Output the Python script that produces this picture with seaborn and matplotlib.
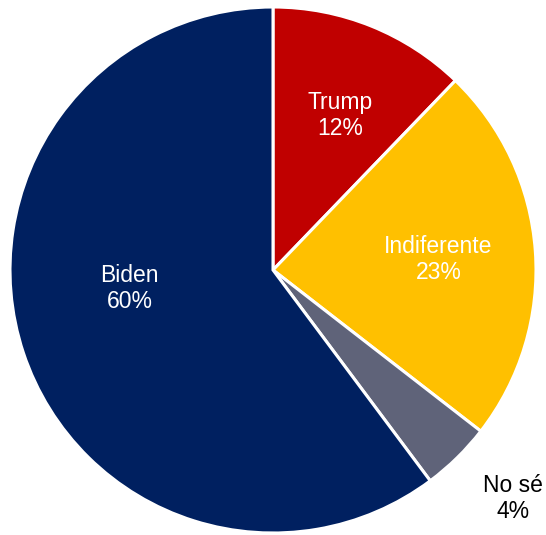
import matplotlib.pyplot as plt
import seaborn as sns
import numpy as np

sns.set_theme(style="white")
plt.rcParams['font.family'] = ['Liberation Sans', 'DejaVu Sans']

# encuesta: preferencia (orden horario desde arriba)
labels = ["Trump", "Indiferente", "No sé", "Biden"]
values = [12.2, 23.3, 4.3, 60.2]
pct_text = ["12%", "23%", "4%", "60%"]
colors = ["#C00000", "#FFC000", "#5F6379", "#002060"]
text_colors = ["white", "white", "black", "white"]
# posición de la etiqueta: (radio, desplazamiento angular en grados)
label_pos = [(0.64, -1.5), (0.63, -0.5), (1.26, 2), (0.55, -11)]

fig = plt.figure(figsize=(5.46, 5.35), dpi=100)
ax = fig.add_axes([10 / 546, 2 / 535, 526 / 546, 526 / 535])

wedges, _ = ax.pie(values, colors=colors, startangle=90, counterclock=False,
                   radius=1, wedgeprops=dict(edgecolor="white", linewidth=2.2))

for w, lab, pct, tc, (r, off) in zip(wedges, labels, pct_text, text_colors, label_pos):
    ang = np.deg2rad((w.theta1 + w.theta2) / 2 + off)
    ax.text(r * np.cos(ang), r * np.sin(ang), f"{lab}\n{pct}", color=tc,
            ha="center", va="center", fontsize=16.5, linespacing=1.18)

ax.set_xlim(-1, 1)
ax.set_ylim(-1, 1)
ax.set_aspect("equal")
ax.axis("off")

fig.savefig("out.png", dpi=100)
